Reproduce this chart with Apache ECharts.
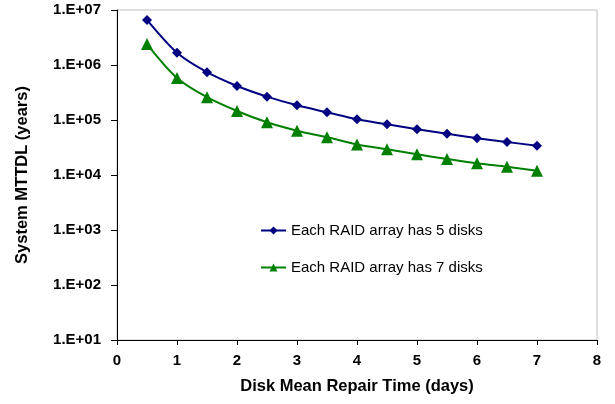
<!DOCTYPE html>
<html>
<head>
<meta charset="utf-8">
<script src="https://cdn.jsdelivr.net/npm/echarts@6/dist/echarts.min.js"></script>
<style>
  html, body { margin: 0; padding: 0; background: #fff; }
  #chart { width: 615px; height: 404px; }
</style>
</head>
<body>
<div id="chart"></div>
<script>
var repairDays = [0.5, 1, 1.5, 2, 2.5, 3, 3.5, 4, 4.5, 5, 5.5, 6, 6.5, 7];
var mttdl5Disks = [6.6e6, 1.67e6, 7.4e5, 4.15e5, 2.66e5, 1.85e5, 1.38e5, 1.03e5, 8.35e4, 6.8e4, 5.6e4, 4.65e4, 3.98e4, 3.4e4];
var mttdl7Disks = [2.4e6, 5.8e5, 2.6e5, 1.46e5, 9.1e4, 6.4e4, 4.85e4, 3.6e4, 2.93e4, 2.38e4, 1.96e4, 1.63e4, 1.41e4, 1.2e4];
var yTickLabels = ['1.E+01', '1.E+02', '1.E+03', '1.E+04', '1.E+05', '1.E+06', '1.E+07'];

function pairs(xs, ys) {
    return xs.map(function(x, i) { return [x, ys[i]]; });
}

var chart = echarts.init(document.getElementById('chart'));
var font = 'Liberation Sans, Arial, sans-serif';

chart.setOption({
    animation: false,
    textStyle: { fontFamily: font },
    grid: {
        left: 117, right: 18, top: 10, bottom: 64,
        outerBoundsMode: 'none', containLabel: false,
        show: true, borderColor: '#c0c0c0', borderWidth: 1
    },
    legend: {
        orient: 'vertical',
        left: 255,
        top: 218,
        itemGap: 22,
        itemWidth: 25,
        itemHeight: 10,
        textStyle: { fontFamily: font, fontSize: 15, color: '#000' },
        data: ['Each RAID array has 5 disks', 'Each RAID array has 7 disks']
    },
    xAxis: {
        type: 'value',
        min: 0,
        max: 8,
        interval: 1,
        name: 'Disk Mean Repair Time (days)',
        nameLocation: 'middle',
        nameGap: 38,
        nameTextStyle: { fontFamily: font, fontSize: 16.5, fontWeight: 'bold', color: '#000' },
        axisLine: { lineStyle: { color: '#000', width: 1 } },
        axisTick: { show: true, inside: false, length: 5, lineStyle: { color: '#000' } },
        axisLabel: { fontFamily: font, fontSize: 15, fontWeight: 'bold', color: '#000', margin: 13 },
        splitLine: { show: false }
    },
    yAxis: {
        type: 'log',
        logBase: 10,
        min: 10,
        max: 1e7,
        name: 'System MTTDL (years)',
        nameLocation: 'middle',
        nameGap: 86,
        nameRotate: 90,
        nameTextStyle: { fontFamily: font, fontSize: 16.5, fontWeight: 'bold', color: '#000' },
        axisLine: { show: true, lineStyle: { color: '#000', width: 1 } },
        axisTick: { show: true, inside: false, length: 6, lineStyle: { color: '#000' } },
        axisLabel: {
            fontFamily: font, fontSize: 15, fontWeight: 'bold', color: '#000', margin: 16,
            formatter: function(v) {
                var e = Math.round(Math.log10(v));
                return yTickLabels[e - 1] || '';
            }
        },
        splitLine: { show: false },
        minorTick: { show: false }
    },
    series: [
        {
            name: 'Each RAID array has 5 disks',
            type: 'line',
            smooth: 0.3,
            data: pairs(repairDays, mttdl5Disks),
            symbol: 'diamond',
            symbolSize: 10,
            itemStyle: { color: '#000080' },
            lineStyle: { color: '#000080', width: 2 }
        },
        {
            name: 'Each RAID array has 7 disks',
            type: 'line',
            smooth: 0.3,
            data: pairs(repairDays, mttdl7Disks),
            symbol: 'triangle',
            symbolSize: 12,
            itemStyle: { color: '#008000' },
            lineStyle: { color: '#008000', width: 2 }
        }
    ]
});
</script>
</body>
</html>
